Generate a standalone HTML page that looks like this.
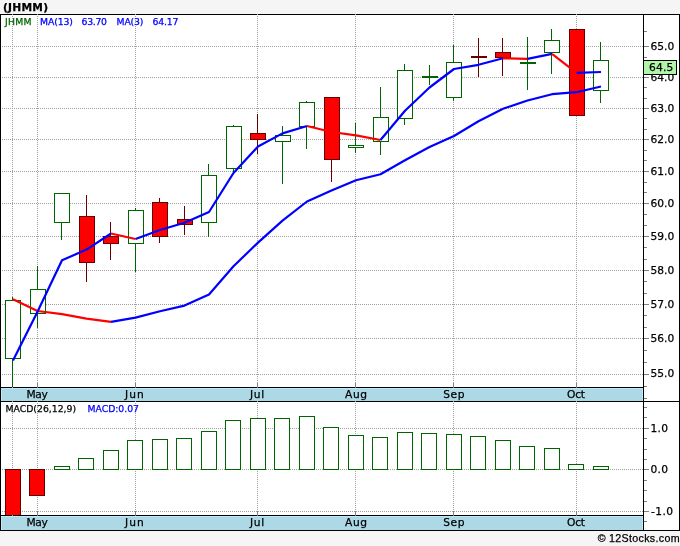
<!DOCTYPE html>
<html lang="en"><head><meta charset="utf-8"><title>(JHMM)</title>
<style>html,body{margin:0;padding:0;background:#f5f5f5;}body{width:680px;height:546px;overflow:hidden;}svg{display:block;}text{font-family:"DejaVu Sans", "Liberation Sans", sans-serif;}</style>
</head><body>
<svg width="680" height="546" viewBox="0 0 680 546">
<rect x="0" y="0" width="680" height="546" fill="#f5f5f5"/>
<rect x="0" y="14" width="680" height="517" fill="#ffffff"/>
<g shape-rendering="crispEdges">
<rect x="1" y="388" width="642" height="13" fill="#add8e6"/>
<rect x="1" y="516" width="642" height="14" fill="#add8e6"/>
<path d="M1.5 401V388.5H642.5V401M1.5 530V516.5H642.5V530" stroke="#bdeaf8" stroke-width="1" fill="none"/>
<path d="M0 46.5H643M0 77.5H643M0 108.5H643M0 139.5H643M0 171.5H643M0 203.5H643M0 236.5H643M0 270.5H643M0 304.5H643M0 338.5H643M0 374.5H643M0 428.5H643M0 469.5H643M0 511.5H643M12.5 14V387M12.5 403V515M37.5 14V387M37.5 403V515M135.5 14V387M135.5 403V515M257.5 14V387M257.5 403V515M355.5 14V387M355.5 403V515M453.5 14V387M453.5 403V515M576.5 14V387M576.5 403V515" stroke="#a0a0a0" stroke-width="1" stroke-dasharray="1 1" fill="none"/>
<path d="M644 46.5H649M644 77.5H649M644 108.5H649M644 139.5H649M644 171.5H649M644 203.5H649M644 236.5H649M644 270.5H649M644 304.5H649M644 338.5H649M644 374.5H649M644 31.5H647M644 57.5H647M644 67.5H647M644 87.5H647M644 98.5H647M644 118.5H647M644 129.5H647M644 150.5H647M644 160.5H647M644 182.5H647M644 192.5H647M644 214.5H647M644 225.5H647M644 247.5H647M644 259.5H647M644 281.5H647M644 293.5H647M644 315.5H647M644 327.5H647M644 350.5H647M644 362.5H647M644 428.5H649M644 469.5H649M644 511.5H649M644 386.5H647M644 398.5H647M644 407.5H647M644 417.5H647M644 438.5H647M644 449.5H647M644 459.5H647M644 480.5H647M644 490.5H647M644 501.5H647M644 521.5H647" stroke="#808080" stroke-width="1" fill="none"/>
</g>
<g shape-rendering="crispEdges">
<rect x="12" y="297" width="1" height="90" fill="#006400"/>
<rect x="5.5" y="300.5" width="15" height="58" fill="#ffffff" stroke="#006400" stroke-width="1"/>
<rect x="37" y="266" width="1" height="62" fill="#006400"/>
<rect x="30.5" y="289.5" width="15" height="24" fill="#ffffff" stroke="#006400" stroke-width="1"/>
<rect x="61" y="193" width="1" height="47" fill="#006400"/>
<rect x="54.5" y="193.5" width="15" height="29" fill="#ffffff" stroke="#006400" stroke-width="1"/>
<rect x="86" y="195" width="1" height="87" fill="#660000"/>
<rect x="79.5" y="216.5" width="15" height="46" fill="#ff0000" stroke="#660000" stroke-width="1"/>
<rect x="110" y="222" width="1" height="38" fill="#660000"/>
<rect x="103.5" y="236.5" width="15" height="7" fill="#ff0000" stroke="#660000" stroke-width="1"/>
<rect x="135" y="208" width="1" height="64" fill="#006400"/>
<rect x="128.5" y="210.5" width="15" height="33" fill="#ffffff" stroke="#006400" stroke-width="1"/>
<rect x="159" y="198" width="1" height="45" fill="#660000"/>
<rect x="152.5" y="202.5" width="15" height="34" fill="#ff0000" stroke="#660000" stroke-width="1"/>
<rect x="184" y="206" width="1" height="29" fill="#660000"/>
<rect x="177.5" y="219.5" width="15" height="5" fill="#ff0000" stroke="#660000" stroke-width="1"/>
<rect x="208" y="164" width="1" height="73" fill="#006400"/>
<rect x="201.5" y="175.5" width="15" height="47" fill="#ffffff" stroke="#006400" stroke-width="1"/>
<rect x="233" y="125" width="1" height="49" fill="#006400"/>
<rect x="226.5" y="126.5" width="15" height="42" fill="#ffffff" stroke="#006400" stroke-width="1"/>
<rect x="257" y="114" width="1" height="40" fill="#660000"/>
<rect x="250.5" y="133.5" width="15" height="6" fill="#ff0000" stroke="#660000" stroke-width="1"/>
<rect x="282" y="126" width="1" height="58" fill="#006400"/>
<rect x="275.5" y="135.5" width="15" height="6" fill="#ffffff" stroke="#006400" stroke-width="1"/>
<rect x="306" y="101" width="1" height="48" fill="#006400"/>
<rect x="299.5" y="102.5" width="15" height="24" fill="#ffffff" stroke="#006400" stroke-width="1"/>
<rect x="331" y="97" width="1" height="85" fill="#660000"/>
<rect x="324.5" y="97.5" width="15" height="62" fill="#ff0000" stroke="#660000" stroke-width="1"/>
<rect x="355" y="123" width="1" height="30" fill="#006400"/>
<rect x="348.5" y="145.5" width="15" height="2" fill="#ffffff" stroke="#006400" stroke-width="1"/>
<rect x="380" y="87" width="1" height="68" fill="#006400"/>
<rect x="373.5" y="117.5" width="15" height="24" fill="#ffffff" stroke="#006400" stroke-width="1"/>
<rect x="404" y="64" width="1" height="61" fill="#006400"/>
<rect x="397.5" y="70.5" width="15" height="48" fill="#ffffff" stroke="#006400" stroke-width="1"/>
<rect x="429" y="65" width="1" height="20" fill="#006400"/>
<rect x="422" y="76" width="16" height="2" fill="#006400"/>
<rect x="453" y="45" width="1" height="56" fill="#006400"/>
<rect x="446.5" y="62.5" width="15" height="35" fill="#ffffff" stroke="#006400" stroke-width="1"/>
<rect x="478" y="38" width="1" height="39" fill="#660000"/>
<rect x="471" y="56" width="16" height="2" fill="#660000"/>
<rect x="502" y="38" width="1" height="38" fill="#660000"/>
<rect x="495.5" y="52.5" width="15" height="5" fill="#ff0000" stroke="#660000" stroke-width="1"/>
<rect x="527" y="37" width="1" height="53" fill="#006400"/>
<rect x="520" y="62" width="16" height="2" fill="#006400"/>
<rect x="551" y="29" width="1" height="45" fill="#006400"/>
<rect x="544.5" y="40.5" width="15" height="12" fill="#ffffff" stroke="#006400" stroke-width="1"/>
<rect x="576" y="29" width="1" height="87" fill="#660000"/>
<rect x="569.5" y="29.5" width="15" height="86" fill="#ff0000" stroke="#660000" stroke-width="1"/>
<rect x="600" y="42" width="1" height="61" fill="#006400"/>
<rect x="593.5" y="60.5" width="15" height="30" fill="#ffffff" stroke="#006400" stroke-width="1"/>
</g>
<g shape-rendering="crispEdges">
<rect x="5.5" y="469.5" width="15" height="46" fill="#ff0000" stroke="#660000" stroke-width="1"/>
<rect x="29.5" y="469.5" width="15" height="26" fill="#ff0000" stroke="#660000" stroke-width="1"/>
<rect x="54.5" y="466.5" width="15" height="3" fill="#ffffff" stroke="#006400" stroke-width="1"/>
<rect x="78.5" y="458.5" width="15" height="11" fill="#ffffff" stroke="#006400" stroke-width="1"/>
<rect x="103.5" y="450.5" width="15" height="19" fill="#ffffff" stroke="#006400" stroke-width="1"/>
<rect x="127.5" y="440.5" width="15" height="29" fill="#ffffff" stroke="#006400" stroke-width="1"/>
<rect x="152.5" y="439.5" width="15" height="30" fill="#ffffff" stroke="#006400" stroke-width="1"/>
<rect x="176.5" y="438.5" width="15" height="31" fill="#ffffff" stroke="#006400" stroke-width="1"/>
<rect x="201.5" y="431.5" width="15" height="38" fill="#ffffff" stroke="#006400" stroke-width="1"/>
<rect x="225.5" y="420.5" width="15" height="49" fill="#ffffff" stroke="#006400" stroke-width="1"/>
<rect x="250.5" y="418.5" width="15" height="51" fill="#ffffff" stroke="#006400" stroke-width="1"/>
<rect x="274.5" y="418.5" width="15" height="51" fill="#ffffff" stroke="#006400" stroke-width="1"/>
<rect x="299.5" y="416.5" width="15" height="53" fill="#ffffff" stroke="#006400" stroke-width="1"/>
<rect x="323.5" y="427.5" width="15" height="42" fill="#ffffff" stroke="#006400" stroke-width="1"/>
<rect x="348.5" y="435.5" width="15" height="34" fill="#ffffff" stroke="#006400" stroke-width="1"/>
<rect x="372.5" y="437.5" width="15" height="32" fill="#ffffff" stroke="#006400" stroke-width="1"/>
<rect x="397.5" y="432.5" width="15" height="37" fill="#ffffff" stroke="#006400" stroke-width="1"/>
<rect x="421.5" y="433.5" width="15" height="36" fill="#ffffff" stroke="#006400" stroke-width="1"/>
<rect x="446.5" y="434.5" width="15" height="35" fill="#ffffff" stroke="#006400" stroke-width="1"/>
<rect x="470.5" y="436.5" width="15" height="33" fill="#ffffff" stroke="#006400" stroke-width="1"/>
<rect x="495.5" y="440.5" width="15" height="29" fill="#ffffff" stroke="#006400" stroke-width="1"/>
<rect x="519.5" y="446.5" width="15" height="23" fill="#ffffff" stroke="#006400" stroke-width="1"/>
<rect x="544.5" y="448.5" width="15" height="21" fill="#ffffff" stroke="#006400" stroke-width="1"/>
<rect x="568.5" y="464.5" width="15" height="5" fill="#ffffff" stroke="#006400" stroke-width="1"/>
<rect x="593.5" y="466.5" width="15" height="3" fill="#ffffff" stroke="#006400" stroke-width="1"/>
</g>
<path d="M13.0 299.2 L37.5 311.0 L62.0 314.2 L86.5 318.6 L111.0 321.9" stroke="#ff0000" stroke-width="2.2" fill="none" stroke-linejoin="round" stroke-linecap="butt"/>
<path d="M111.0 321.9 L135.5 317.6 L160.0 311.3 L184.5 305.6 L209.0 294.5 L233.5 266.3 L258.0 242.6 L282.5 220.6 L307.0 201.5 L331.5 190.4 L356.0 180.3 L380.5 174.3 L405.0 160.3 L429.5 147.0 L454.0 136.0 L478.5 121.3 L503.0 108.8 L527.5 100.5 L552.0 94.2 L576.5 92.2 L601.0 86.5" stroke="#0000ff" stroke-width="2.2" fill="none" stroke-linejoin="round" stroke-linecap="butt"/>
<path d="M13.0 360.6 L37.5 311.8 L62.0 260.3 L86.5 249.6 L111.0 233.5" stroke="#0000ff" stroke-width="2.2" fill="none" stroke-linejoin="round" stroke-linecap="butt"/>
<path d="M111.0 233.5 L135.5 239.0" stroke="#ff0000" stroke-width="2.2" fill="none" stroke-linejoin="round" stroke-linecap="butt"/>
<path d="M135.5 239.0 L160.0 230.0 L184.5 222.8 L209.0 212.0 L233.5 173.0 L258.0 146.5 L282.5 133.4 L307.0 126.0" stroke="#0000ff" stroke-width="2.2" fill="none" stroke-linejoin="round" stroke-linecap="butt"/>
<path d="M307.0 126.0 L331.5 132.0 L356.0 135.4 L380.5 140.0" stroke="#ff0000" stroke-width="2.2" fill="none" stroke-linejoin="round" stroke-linecap="butt"/>
<path d="M380.5 140.0 L405.0 110.7 L429.5 87.5 L454.0 69.0 L478.5 64.8 L503.0 58.3" stroke="#0000ff" stroke-width="2.2" fill="none" stroke-linejoin="round" stroke-linecap="butt"/>
<path d="M503.0 58.3 L527.5 58.9" stroke="#ff0000" stroke-width="2.2" fill="none" stroke-linejoin="round" stroke-linecap="butt"/>
<path d="M527.5 58.9 L552.0 53.9" stroke="#0000ff" stroke-width="2.2" fill="none" stroke-linejoin="round" stroke-linecap="butt"/>
<path d="M552.0 53.9 L576.5 72.8" stroke="#ff0000" stroke-width="2.2" fill="none" stroke-linejoin="round" stroke-linecap="butt"/>
<path d="M576.5 72.8 L601.0 72.0" stroke="#0000ff" stroke-width="2.2" fill="none" stroke-linejoin="round" stroke-linecap="butt"/>
<g shape-rendering="crispEdges" fill="#000000">
<rect x="0" y="14" width="680" height="1"/>
<rect x="0" y="14" width="1" height="517"/>
<rect x="679" y="14" width="1" height="517"/>
<rect x="643" y="14" width="1" height="517"/>
<rect x="0" y="387" width="644" height="1"/>
<rect x="0" y="401" width="680" height="1"/>
<rect x="0" y="515" width="644" height="1"/>
<rect x="0" y="530" width="680" height="1"/>
</g>
<g shape-rendering="crispEdges" fill="#a0a0a0">
<rect x="12" y="387" width="1" height="1"/>
<rect x="12" y="515" width="1" height="1"/>
<rect x="12" y="14" width="1" height="1"/>
<rect x="12" y="401" width="1" height="1"/>
<rect x="37" y="383" width="1" height="5" fill="#808080"/>
<rect x="37" y="511" width="1" height="5" fill="#808080"/>
<rect x="37" y="14" width="1" height="1"/>
<rect x="37" y="401" width="1" height="1"/>
<rect x="135" y="383" width="1" height="5" fill="#808080"/>
<rect x="135" y="511" width="1" height="5" fill="#808080"/>
<rect x="135" y="14" width="1" height="1"/>
<rect x="135" y="401" width="1" height="1"/>
<rect x="257" y="383" width="1" height="5" fill="#808080"/>
<rect x="257" y="511" width="1" height="5" fill="#808080"/>
<rect x="257" y="14" width="1" height="1"/>
<rect x="257" y="401" width="1" height="1"/>
<rect x="355" y="383" width="1" height="5" fill="#808080"/>
<rect x="355" y="511" width="1" height="5" fill="#808080"/>
<rect x="355" y="14" width="1" height="1"/>
<rect x="355" y="401" width="1" height="1"/>
<rect x="453" y="383" width="1" height="5" fill="#808080"/>
<rect x="453" y="511" width="1" height="5" fill="#808080"/>
<rect x="453" y="14" width="1" height="1"/>
<rect x="453" y="401" width="1" height="1"/>
<rect x="576" y="383" width="1" height="5" fill="#808080"/>
<rect x="576" y="511" width="1" height="5" fill="#808080"/>
<rect x="576" y="14" width="1" height="1"/>
<rect x="576" y="401" width="1" height="1"/>
</g>
<rect x="643.5" y="60.5" width="33" height="14" fill="#b0f5a8" stroke="#000" stroke-width="1" shape-rendering="crispEdges"/>
<text x="650.5" y="49.8" font-size="10.67" fill="#000" stroke="#000" stroke-width="0.25" text-anchor="start" font-weight="normal" textLength="23.8" lengthAdjust="spacing">65.0</text>
<text x="650.5" y="80.8" font-size="10.67" fill="#000" stroke="#000" stroke-width="0.25" text-anchor="start" font-weight="normal" textLength="23.8" lengthAdjust="spacing">64.0</text>
<text x="650.5" y="111.8" font-size="10.67" fill="#000" stroke="#000" stroke-width="0.25" text-anchor="start" font-weight="normal" textLength="23.8" lengthAdjust="spacing">63.0</text>
<text x="650.5" y="142.8" font-size="10.67" fill="#000" stroke="#000" stroke-width="0.25" text-anchor="start" font-weight="normal" textLength="23.8" lengthAdjust="spacing">62.0</text>
<text x="650.5" y="174.8" font-size="10.67" fill="#000" stroke="#000" stroke-width="0.25" text-anchor="start" font-weight="normal" textLength="23.8" lengthAdjust="spacing">61.0</text>
<text x="650.5" y="206.8" font-size="10.67" fill="#000" stroke="#000" stroke-width="0.25" text-anchor="start" font-weight="normal" textLength="23.8" lengthAdjust="spacing">60.0</text>
<text x="650.5" y="239.8" font-size="10.67" fill="#000" stroke="#000" stroke-width="0.25" text-anchor="start" font-weight="normal" textLength="23.8" lengthAdjust="spacing">59.0</text>
<text x="650.5" y="273.8" font-size="10.67" fill="#000" stroke="#000" stroke-width="0.25" text-anchor="start" font-weight="normal" textLength="23.8" lengthAdjust="spacing">58.0</text>
<text x="650.5" y="307.8" font-size="10.67" fill="#000" stroke="#000" stroke-width="0.25" text-anchor="start" font-weight="normal" textLength="23.8" lengthAdjust="spacing">57.0</text>
<text x="650.5" y="341.8" font-size="10.67" fill="#000" stroke="#000" stroke-width="0.25" text-anchor="start" font-weight="normal" textLength="23.8" lengthAdjust="spacing">56.0</text>
<text x="650.5" y="376.5" font-size="10.67" fill="#000" stroke="#000" stroke-width="0.25" text-anchor="start" font-weight="normal" textLength="23.8" lengthAdjust="spacing">55.0</text>
<rect x="643.5" y="60.5" width="33" height="14" fill="#b0f5a8" stroke="#000" stroke-width="1" shape-rendering="crispEdges"/>
<text x="649" y="70.5" font-size="10.67" fill="#000" stroke="#000" stroke-width="0.25" text-anchor="start" font-weight="normal" textLength="24.3" lengthAdjust="spacing">64.5</text>
<text x="650.5" y="431.8" font-size="10.67" fill="#000" stroke="#000" stroke-width="0.25" text-anchor="start" font-weight="normal" textLength="17.5" lengthAdjust="spacing">1.0</text>
<text x="650.5" y="472.8" font-size="10.67" fill="#000" stroke="#000" stroke-width="0.25" text-anchor="start" font-weight="normal" textLength="17.5" lengthAdjust="spacing">0.0</text>
<text x="651" y="514.8" font-size="10.67" fill="#000" stroke="#000" stroke-width="0.25" text-anchor="start" font-weight="normal" textLength="22" lengthAdjust="spacing">-1.0</text>
<text x="26.5" y="398" font-size="10.67" fill="#000" stroke="#000" stroke-width="0.25" text-anchor="start" font-weight="normal" textLength="21.3" lengthAdjust="spacing">May</text>
<text x="26.5" y="526" font-size="10.67" fill="#000" stroke="#000" stroke-width="0.25" text-anchor="start" font-weight="normal" textLength="21.3" lengthAdjust="spacing">May</text>
<text x="125" y="398" font-size="10.67" fill="#000" stroke="#000" stroke-width="0.25" text-anchor="start" font-weight="normal" textLength="18.7" lengthAdjust="spacing">Jun</text>
<text x="125" y="526" font-size="10.67" fill="#000" stroke="#000" stroke-width="0.25" text-anchor="start" font-weight="normal" textLength="18.7" lengthAdjust="spacing">Jun</text>
<text x="250" y="398" font-size="10.67" fill="#000" stroke="#000" stroke-width="0.25" text-anchor="start" font-weight="normal" textLength="14.2" lengthAdjust="spacing">Jul</text>
<text x="250" y="526" font-size="10.67" fill="#000" stroke="#000" stroke-width="0.25" text-anchor="start" font-weight="normal" textLength="14.2" lengthAdjust="spacing">Jul</text>
<text x="345" y="398" font-size="10.67" fill="#000" stroke="#000" stroke-width="0.25" text-anchor="start" font-weight="normal" textLength="22" lengthAdjust="spacing">Aug</text>
<text x="345" y="526" font-size="10.67" fill="#000" stroke="#000" stroke-width="0.25" text-anchor="start" font-weight="normal" textLength="22" lengthAdjust="spacing">Aug</text>
<text x="443.2" y="398" font-size="10.67" fill="#000" stroke="#000" stroke-width="0.25" text-anchor="start" font-weight="normal" textLength="21.3" lengthAdjust="spacing">Sep</text>
<text x="443.2" y="526" font-size="10.67" fill="#000" stroke="#000" stroke-width="0.25" text-anchor="start" font-weight="normal" textLength="21.3" lengthAdjust="spacing">Sep</text>
<text x="567" y="398" font-size="10.67" fill="#000" stroke="#000" stroke-width="0.25" text-anchor="start" font-weight="normal" textLength="18" lengthAdjust="spacing">Oct</text>
<text x="567" y="526" font-size="10.67" fill="#000" stroke="#000" stroke-width="0.25" text-anchor="start" font-weight="normal" textLength="18" lengthAdjust="spacing">Oct</text>
<text x="3" y="11" font-size="10.67" fill="#000" stroke="#000" stroke-width="0.25" text-anchor="start" font-weight="bold" textLength="45" lengthAdjust="spacing">(JHMM)</text>
<text x="5" y="24.5" font-size="9.3" fill="#006400" stroke="#006400" stroke-width="0.25" text-anchor="start" font-weight="normal" textLength="26.5" lengthAdjust="spacing">JHMM</text>
<text x="40" y="24.5" font-size="9.3" fill="#0000ff" stroke="#0000ff" stroke-width="0.25" text-anchor="start" font-weight="normal" textLength="33" lengthAdjust="spacing">MA(13)</text>
<text x="81.5" y="24.5" font-size="9.3" fill="#0000ff" stroke="#0000ff" stroke-width="0.25" text-anchor="start" font-weight="normal" textLength="25.5" lengthAdjust="spacing">63.70</text>
<text x="116.5" y="24.5" font-size="9.3" fill="#0000ff" stroke="#0000ff" stroke-width="0.25" text-anchor="start" font-weight="normal" textLength="27" lengthAdjust="spacing">MA(3)</text>
<text x="152.5" y="24.5" font-size="9.3" fill="#0000ff" stroke="#0000ff" stroke-width="0.25" text-anchor="start" font-weight="normal" textLength="26" lengthAdjust="spacing">64.17</text>
<text x="5.5" y="412" font-size="9.3" fill="#000" stroke="#000" stroke-width="0.25" text-anchor="start" font-weight="normal" textLength="70.6" lengthAdjust="spacing">MACD(26,12,9)</text>
<text x="87.5" y="412" font-size="9.3" fill="#0000ff" stroke="#0000ff" stroke-width="0.25" text-anchor="start" font-weight="normal" textLength="51.5" lengthAdjust="spacing">MACD:0.07</text>
<text x="597.8" y="542" font-size="10.67" fill="#000" stroke="#000" stroke-width="0.25" text-anchor="start" font-weight="normal" textLength="8.2" lengthAdjust="spacing" style="font-family:&quot;Liberation Sans&quot;, sans-serif">©</text>
<text x="609" y="542" font-size="10.67" fill="#000" stroke="#000" stroke-width="0.25" text-anchor="start" font-weight="normal" textLength="70.6" lengthAdjust="spacing" style="font-family:&quot;Liberation Sans&quot;, sans-serif">12Stocks.com</text>
</svg>
</body></html>
